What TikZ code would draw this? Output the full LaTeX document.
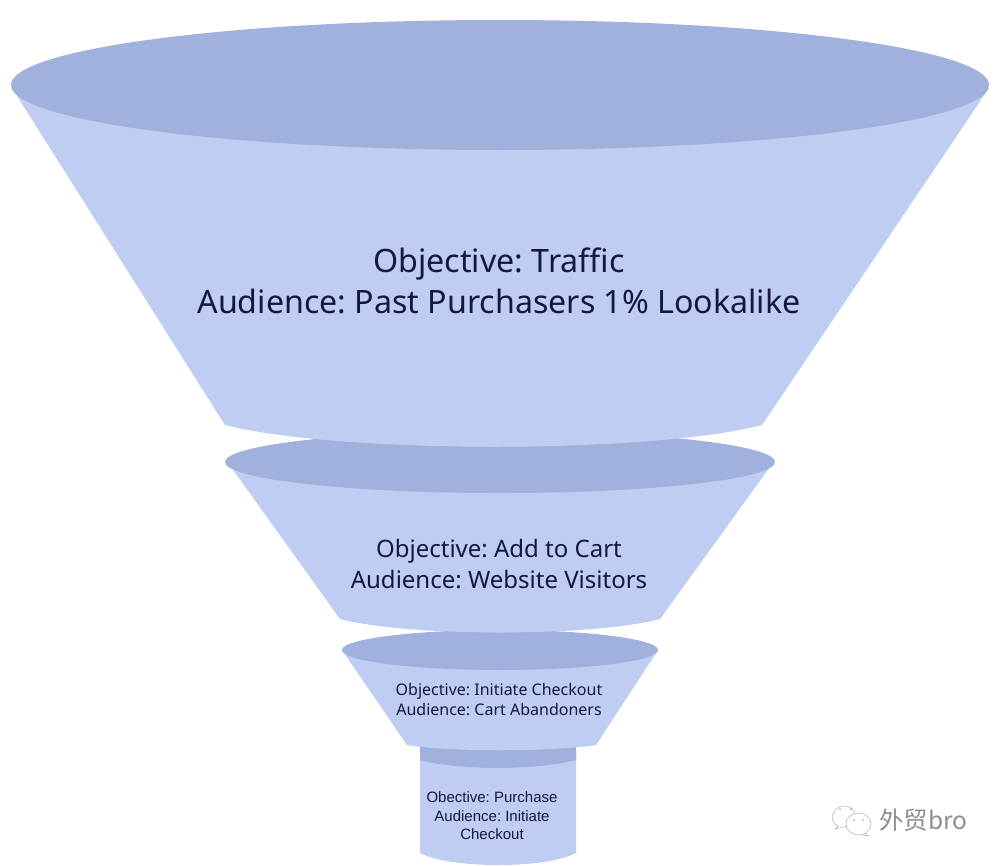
\documentclass[tikz,border=0pt]{standalone}
\usepackage{fontspec}
\setmainfont{Noto Sans}
\newfontfamily\arialf{Liberation Sans}
\newfontfamily\cjkf{Noto Sans CJK SC}
\frenchspacing
\definecolor{bodyc}{HTML}{BFCDF3}
\definecolor{topc}{HTML}{A0B1DE}
\definecolor{inkc}{HTML}{14183C}
\definecolor{markc}{HTML}{8E8E8E}
\tikzset{
  bodyf/.style={fill=bodyc,draw=none},
  topf/.style={fill=topc,draw=none},
  lab/.style={text=inkc,align=center,inner sep=0pt},
}
\begin{document}
\begin{tikzpicture}[x=1pt,y=-1pt]
\useasboundingbox (0,0) rectangle (1000,865);
\fill[white] (0,0) rectangle (1000,865);
% stem
\path[bodyf] (420,748) -- (420,853) .. controls (450,869) and (546,869) .. (576,853) -- (576,748) -- cycle;
\path[topf] (420,745) -- (420,760) .. controls (460,770.5) and (536,770.5) .. (576,760) -- (576,745) -- cycle;
% third tier
\path[bodyf] (342,650) -- (407,745) .. controls (450,752) and (550,752) .. (596,745) -- (658,650) -- cycle;
\path[topf] (500,650) ellipse [x radius=158, y radius=20];
% second tier
\path[bodyf] (226,460) -- (340,619) .. controls (410,637) and (590,637) .. (660,619) -- (775,460) -- cycle;
\path[topf] (500,462) ellipse [x radius=275, y radius=31];
% first tier
\path[bodyf] (12,88) -- (225,425) .. controls (340,454) and (650,454) .. (762,425) -- (989,88) -- cycle;
\path[topf] (500,85) ellipse [x radius=489, y radius=65];
% labels
\node[lab,font=\fontsize{32.2}{41}\selectfont] (t1) at (499,281) {Objective: Traffic\\Audience: Past Purchasers 1\% Lookalike};
\node[lab,font=\fontsize{24}{31}\selectfont] (t2) at (499,564) {Objective: Add to Cart\\Audience: Website Visitors};
\node[lab,font=\fontsize{16}{20}\selectfont] (t3) at (499,700) {Objective: Initiate Checkout\\Audience: Cart Abandoners};
\node[lab,font=\arialf\fontsize{15}{18.5}\selectfont] (t4) at (492,816) {Obective: Purchase\\Audience: Initiate\\Checkout};
% watermark
\node[anchor=west,inner sep=0pt,text=markc,font=\cjkf\fontsize{24.5}{26}\selectfont] (wm) at (879,820) {外贸bro};
\begin{scope}[draw=markc!70,line width=0.5pt]
\draw (855,812) .. controls (850,804) and (838,804) .. (834,812) .. controls (830,818) and (833,824) .. (838,826) -- (835,829) -- (847,826);
\draw (858.5,824) circle [x radius=12.5, y radius=11];
\draw (865,833) -- (868,836) -- (862,835);
\fill[markc!70] (854,820) circle (1) (863,820) circle (1) (840,809) circle (1) (851,809) circle (1);
\end{scope}
\end{tikzpicture}
\end{document}
